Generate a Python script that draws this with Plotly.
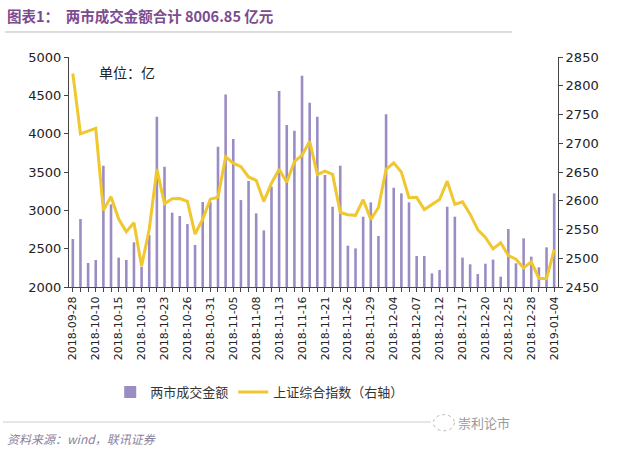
import plotly.graph_objects as go

dates = ["2018-09-28", "2018-10-08", "2018-10-09", "2018-10-10", "2018-10-11", "2018-10-12",
         "2018-10-15", "2018-10-16", "2018-10-17", "2018-10-18", "2018-10-19", "2018-10-22",
         "2018-10-23", "2018-10-24", "2018-10-25", "2018-10-26", "2018-10-29", "2018-10-30",
         "2018-10-31", "2018-11-01", "2018-11-02", "2018-11-05", "2018-11-06", "2018-11-07",
         "2018-11-08", "2018-11-09", "2018-11-12", "2018-11-13", "2018-11-14", "2018-11-15",
         "2018-11-16", "2018-11-19", "2018-11-20", "2018-11-21", "2018-11-22", "2018-11-23",
         "2018-11-26", "2018-11-27", "2018-11-28", "2018-11-29", "2018-11-30", "2018-12-03",
         "2018-12-04", "2018-12-05", "2018-12-06", "2018-12-07", "2018-12-10", "2018-12-11",
         "2018-12-12", "2018-12-13", "2018-12-14", "2018-12-17", "2018-12-18", "2018-12-19",
         "2018-12-20", "2018-12-21", "2018-12-24", "2018-12-25", "2018-12-26", "2018-12-27",
         "2018-12-28", "2019-01-02", "2019-01-03", "2019-01-04"]

turnover = [2626, 2887, 2313, 2352, 3582, 3078, 2383, 2352, 2583, 2265,
            2678, 4221, 3569, 2969, 2926, 2821, 2548, 3108, 3108, 3829,
            4512, 3930, 3134, 3382, 2960, 2739, 3308, 4555, 4112, 4038,
            4755, 4403, 4221, 3460, 3047, 3582, 2539, 2504, 2917, 3104,
            2665, 4252, 3295, 3221, 3104, 2404, 2404, 2178, 2222, 3047,
            2917, 2383, 2296, 2169, 2304, 2357, 2135, 2756, 2309, 2635,
            2396, 2257, 2517, 3221]

sse = [2821.4, 2716.5, 2721.0, 2725.8, 2583.5, 2606.9, 2568.1, 2546.3, 2561.6, 2486.4,
       2550.5, 2654.9, 2594.8, 2603.3, 2603.8, 2598.9, 2542.1, 2568.1, 2602.8, 2606.2,
       2676.5, 2665.4, 2659.4, 2641.3, 2635.6, 2598.9, 2630.5, 2654.9, 2632.2, 2668.2,
       2679.1, 2703.5, 2645.4, 2651.5, 2645.9, 2579.5, 2575.8, 2574.7, 2601.7, 2567.4,
       2588.2, 2654.8, 2666.0, 2649.8, 2605.2, 2605.9, 2584.6, 2594.1, 2602.2, 2634.1,
       2593.7, 2598.0, 2576.7, 2549.6, 2536.3, 2516.3, 2527.0, 2504.8, 2498.3, 2483.1,
       2493.9, 2465.3, 2464.4, 2514.9]

bar_name = "两市成交金额"
line_name = "上证综合指数（右轴）"

idx = list(range(len(dates)))
tick_text = [d if i % 3 == 0 else "" for i, d in enumerate(dates)]

fig = go.Figure()
fig.add_trace(go.Bar(x=idx, y=turnover, name=bar_name, marker_color="#9B8DC4",
                     marker_line_width=0, yaxis="y"))
fig.add_trace(go.Scatter(x=idx, y=sse, name=line_name, mode="lines",
                         line=dict(color="#F0C72E", width=3), yaxis="y2"))

num_font = dict(family="DejaVu Sans", size=13, color="#222")
cjk = "Noto Sans CJK SC"

fig.update_layout(
    width=633, height=450,
    margin=dict(l=69, r=75, t=57, b=163),
    paper_bgcolor="white", plot_bgcolor="white",
    bargap=0.66,
    showlegend=True,
    legend=dict(orientation="h", x=0.39, xanchor="center", y=-0.457, yanchor="middle",
                font=dict(family=cjk, size=13, color="#333"), itemwidth=30,
                tracegroupgap=0, traceorder="normal"),
    xaxis=dict(range=[-0.5, 63.5], tickmode="array", tickvals=idx, ticktext=tick_text,
               tickangle=-90, tickfont=dict(family="DejaVu Sans", size=11, color="#222"),
               ticks="outside", ticklen=4, tickcolor="#444", showline=True,
               linecolor="#444", linewidth=1, showgrid=False, zeroline=False),
    yaxis=dict(range=[2000, 5000], dtick=500, tickfont=num_font, ticks="outside",
               ticklen=4, tickcolor="#444", showline=True, linecolor="#444",
               showgrid=False, zeroline=False),
    yaxis2=dict(range=[2450, 2850], dtick=50, overlaying="y", side="right",
                tickfont=num_font, ticks="outside", ticklen=4, tickcolor="#444",
                showline=True, linecolor="#444", showgrid=False, zeroline=False),
)

fig.add_annotation(text="<b>图表1：  两市成交金额合计 8006.85 亿元</b>",
                   xref="paper", yref="paper", x=-0.131, y=1.18, xanchor="left",
                   yanchor="middle", showarrow=False,
                   font=dict(family=cjk, size=14.5, color="#7B4C8F"))
fig.add_annotation(text="单位：亿", xref="paper", yref="paper", x=0.119, y=0.935,
                   xanchor="center", yanchor="middle", showarrow=False,
                   font=dict(family=cjk, size=14, color="#222"))
fig.add_annotation(text="<i>资料来源：wind，联讯证券</i>", xref="paper", yref="paper",
                   x=-0.131, y=-0.657, xanchor="left", yanchor="middle", showarrow=False,
                   font=dict(family=cjk, size=12, color="#8B7F9E"))
fig.add_annotation(text="崇利论市", xref="paper", yref="paper", x=0.848, y=-0.59,
                   xanchor="center", yanchor="middle", showarrow=False,
                   font=dict(family=cjk, size=13, color="#999"))

fig.add_shape(type="line", xref="paper", yref="paper", x0=-0.131, x1=0.906,
              y0=1.1087, y1=1.1087, line=dict(color="#BBB", width=1))
fig.add_shape(type="line", xref="paper", yref="paper", x0=-0.135, x1=0.74,
              y0=-0.587, y1=-0.587, line=dict(color="#CCC", width=1))
fig.add_shape(type="circle", xref="paper", yref="paper", x0=0.745, x1=0.788,
              y0=-0.625, y1=-0.555, line=dict(color="#BBB", width=1, dash="dot"))

fig.write_html("out.html", config={"displayModeBar": False},
               post_script="document.body.style.margin='0';document.body.style.padding='0';")
